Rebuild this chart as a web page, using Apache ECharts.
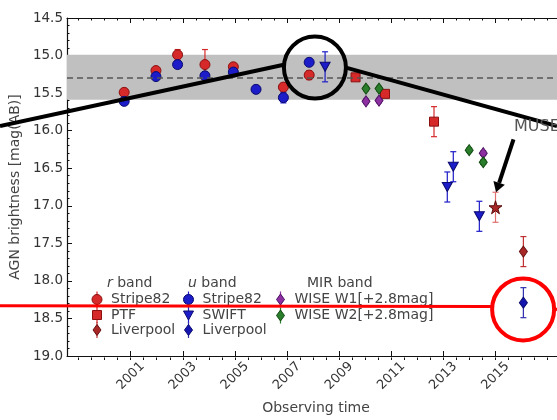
<!DOCTYPE html>
<html><head><meta charset="utf-8">
<script src="https://cdn.jsdelivr.net/npm/echarts@6/dist/echarts.min.js"></script>
<style>html,body{margin:0;padding:0;background:#fff}#c{width:557px;height:420px}</style>
</head><body><div id="c"></div>
<script>
// ---- data: [year, magnitude, error] ----
const rStripe82 = [[2000.75,15.49,0.04],[2001.97,15.20,0.04],[2002.80,14.99,0.07],[2003.85,15.12,0.20],[2004.94,15.15,0.04],[2006.86,15.42,0.05],[2007.85,15.26,0.06]];
const rPTF = [[2009.63,15.29,0.03],[2010.76,15.51,0.04],[2012.64,15.88,0.20]];
const rLiverpool = [[2016.07,17.61,0.20]];
const rMUSE = [[2015.00,17.02,0.20]];
const uStripe82 = [[2000.75,15.61,0.04],[2001.97,15.28,0.04],[2002.80,15.12,0.04],[2003.85,15.27,0.04],[2004.94,15.22,0.04],[2005.81,15.45,0.05],[2006.86,15.56,0.07],[2007.85,15.09,0.04]];
const uSWIFT = [[2008.46,15.15,0.20],[2013.15,16.75,0.20],[2013.38,16.48,0.20],[2014.38,17.14,0.20]];
const uLiverpool = [[2016.07,18.29,0.20]];
const wiseW1 = [[2010.03,15.61,0.03],[2010.53,15.60,0.03],[2014.53,16.30,0.03]];
const wiseW2 = [[2010.03,15.44,0.03],[2010.53,15.44,0.03],[2013.99,16.26,0.03],[2014.53,16.42,0.03]];
const bandMean = 15.29, bandHalf = 0.30;
const xTickYears = [2001,2003,2005,2007,2009,2011,2013,2015];
const xMinorTicks = [];
for (let v = 1998.5; v <= 2017.5; v += 0.5) xMinorTicks.push(v);
const X_MIN = 1998.556, X_MAX = 2017.36;
const Y_MIN = 14.5, Y_MAX = 19.0;
const blackCircleAt = [2008.07, 15.16];
const redCircleAt = [2016.06, 18.38];

const FF = 'DejaVu Sans';
const chart = echarts.init(document.getElementById('c'), null, {renderer:'canvas'});

function errSeries(name, data, color) {
  return {
    name: name + ' err', type: 'custom', xAxisIndex: 0, yAxisIndex: 0, z: 3, silent: true,
    data: data,
    encode: {x: 0, y: 1},
    renderItem: function (params, api) {
      const x = api.value(0), y = api.value(1), e = api.value(2);
      const t = api.coord([x, y - e]), b = api.coord([x, y + e]);
      const st = {stroke: color, lineWidth: 1.2};
      return {type: 'group', children: [
        {type: 'line', shape: {x1: t[0], y1: t[1], x2: b[0], y2: b[1]}, style: st},
        {type: 'line', shape: {x1: t[0]-3, y1: t[1], x2: t[0]+3, y2: t[1]}, style: st},
        {type: 'line', shape: {x1: b[0]-3, y1: b[1], x2: b[0]+3, y2: b[1]}, style: st}
      ]};
    }
  };
}
function ptSeries(name, data, symbol, size, fill, edge, rot) {
  return {
    name: name, type: 'scatter', xAxisIndex: 0, yAxisIndex: 0, z: 4, silent: true,
    data: data.map(d => [d[0], d[1]]),
    symbol: symbol, symbolSize: size, symbolRotate: rot || 0,
    itemStyle: {color: fill, borderColor: edge, borderWidth: 1, opacity: 1}
  };
}
const STAR = 'path://M50,0 L61,35 L98,35 L68,57 L79,91 L50,70 L21,91 L32,57 L2,35 L39,35 Z';
const RED = '#d62a2a', REDE = '#8b1010', BLUE = '#1c1cc8', BLUEE = '#0a0a70';
const PURP = '#8d2fa0', GRN = '#2a7d2a';

const option = {
  animation: false,
  backgroundColor: '#ffffff',
  grid: [{left: 67, top: 18, right: 0, bottom: 60}, {left: 67, top: 18, right: 0, bottom: 60}],
  xAxis: [
    {gridIndex: 0, type: 'value', position: 'bottom', min: X_MIN, max: X_MAX,
     axisLine: {lineStyle: {color: '#111', width: 1.2}},
     axisTick: {inside: true, length: 5, customValues: xTickYears, lineStyle: {color: '#111'}},
     axisLabel: {customValues: xTickYears, rotate: 45, align: 'center', verticalAlign: 'middle', margin: 20,
                 fontSize: 13, color: '#333', fontFamily: FF, formatter: v => String(Math.round(v))},
     splitLine: {show: false},
     name: 'Observing time', nameLocation: 'middle', nameGap: 45,
     nameTextStyle: {fontSize: 14, color: '#444', fontFamily: FF, padding: [0, 0, 0, 8]}},
    {gridIndex: 0, type: 'value', position: 'top', min: X_MIN, max: X_MAX,
     axisLine: {lineStyle: {color: '#111', width: 1.2}},
     axisTick: {inside: true, length: 5, customValues: xTickYears, lineStyle: {color: '#111'}},
     axisLabel: {show: false}, splitLine: {show: false}},
    {gridIndex: 1, type: 'value', position: 'bottom', min: X_MIN, max: X_MAX,
     axisLine: {show: false},
     axisTick: {inside: true, length: 2.5, customValues: xMinorTicks, lineStyle: {color: '#111'}},
     axisLabel: {show: false}, splitLine: {show: false}},
    {gridIndex: 1, type: 'value', position: 'top', min: X_MIN, max: X_MAX,
     axisLine: {show: false},
     axisTick: {inside: true, length: 2.5, customValues: xMinorTicks, lineStyle: {color: '#111'}},
     axisLabel: {show: false}, splitLine: {show: false}}
  ],
  yAxis: [
    {gridIndex: 0, type: 'value', inverse: true, min: Y_MIN, max: Y_MAX, interval: 0.5,
     axisLine: {show: true, lineStyle: {color: '#111', width: 1.2}},
     axisTick: {show: true, inside: true, length: 5, lineStyle: {color: '#111'}},
     minorTick: {show: true, splitNumber: 5, length: 2.5, lineStyle: {color: '#111'}},
     axisLabel: {formatter: v => v.toFixed(1), margin: 4, fontSize: 13.5, color: '#333', fontFamily: FF},
     splitLine: {show: false}, minorSplitLine: {show: false},
     name: 'AGN brightness [mag(AB)]', nameLocation: 'middle', nameGap: 42,
     nameTextStyle: {fontSize: 14, color: '#444', fontFamily: FF}},
    {gridIndex: 1, type: 'value', inverse: true, min: Y_MIN, max: Y_MAX, show: false}
  ],
  series: [
    {name: 'band', type: 'line', xAxisIndex: 0, yAxisIndex: 0, data: [], z: 1, silent: true,
     markArea: {silent: true, itemStyle: {color: '#c0c0c0'},
                data: [[{yAxis: bandMean - bandHalf}, {yAxis: bandMean + bandHalf}]]},
     markLine: {silent: true, symbol: 'none', label: {show: false},
                lineStyle: {type: [6, 4], color: '#555', width: 1.6},
                data: [{yAxis: bandMean}]}},
    errSeries('r Stripe82', rStripe82, RED),
    errSeries('u Stripe82', uStripe82, BLUE),
    errSeries('r PTF', rPTF, RED),
    errSeries('r Liverpool', rLiverpool, '#c03030'),
    errSeries('MUSE', rMUSE, '#e07070'),
    errSeries('u SWIFT', uSWIFT, BLUE),
    errSeries('u Liverpool', uLiverpool, '#3030b0'),
    errSeries('WISE W1', wiseW1, PURP),
    errSeries('WISE W2', wiseW2, GRN),
    ptSeries('r Stripe82', rStripe82, 'circle', 10, RED, REDE),
    ptSeries('u Stripe82', uStripe82, 'circle', 10, BLUE, BLUEE),
    ptSeries('r PTF', rPTF, 'rect', 9, RED, REDE),
    ptSeries('r Liverpool', rLiverpool, 'diamond', [8, 11], '#a82828', '#6b1010'),
    ptSeries('MUSE', rMUSE, STAR, 13, '#a82828', '#5a0a0a'),
    ptSeries('u SWIFT', uSWIFT, 'triangle', [10, 9], BLUE, BLUEE, 180),
    ptSeries('u Liverpool', uLiverpool, 'diamond', [8, 11], '#1515b0', BLUEE),
    ptSeries('WISE W1', wiseW1, 'diamond', [8, 11], PURP, '#4a1060'),
    ptSeries('WISE W2', wiseW2, 'diamond', [8, 11], GRN, '#104a10')
  ]
};
chart.setOption(option);

// ---- legend & annotations (graphic overlay) ----
function mk(shape, cx, cy, fill, edge) {
  const st = {fill: fill, stroke: edge, lineWidth: 1};
  if (shape === 'circle') return {type: 'circle', shape: {cx: cx, cy: cy, r: 5}, style: st};
  if (shape === 'rect') return {type: 'rect', shape: {x: cx-4.5, y: cy-4.5, width: 9, height: 9}, style: st};
  if (shape === 'diamond') return {type: 'polygon', shape: {points: [[cx, cy-5.5], [cx+4, cy], [cx, cy+5.5], [cx-4, cy]]}, style: st};
  return {type: 'polygon', shape: {points: [[cx-5, cy-4], [cx+5, cy-4], [cx, cy+5]]}, style: st};
}
function entry(shape, cx, cy, fill, edge, barColor, label) {
  return [
    {type: 'line', shape: {x1: cx, y1: cy-8, x2: cx, y2: cy+8}, style: {stroke: barColor, lineWidth: 1.2}, z: 50},
    Object.assign(mk(shape, cx, cy, fill, edge), {z: 51}),
    {type: 'text', x: cx + 14, y: cy, z: 51, style: {text: label, fill: '#444', font: '14px "DejaVu Sans"', textVerticalAlign: 'middle', textAlign: 'left'}}
  ];
}
const g = [];
g.push({type: 'text', x: 107, y: 283, z: 51, style: {text: '{i|r} band', rich: {i: {fontStyle: 'italic', fontSize: 14, fill: '#444', fontFamily: FF}}, fill: '#444', font: '14px "DejaVu Sans"', textVerticalAlign: 'middle'}});
g.push({type: 'text', x: 188, y: 283, z: 51, style: {text: '{i|u} band', rich: {i: {fontStyle: 'italic', fontSize: 14, fill: '#444', fontFamily: FF}}, fill: '#444', font: '14px "DejaVu Sans"', textVerticalAlign: 'middle'}});
g.push({type: 'text', x: 307, y: 283, z: 51, style: {text: 'MIR band', fill: '#444', font: '14px "DejaVu Sans"', textVerticalAlign: 'middle'}});
g.push(...entry('circle', 97, 299.5, RED, REDE, RED, 'Stripe82'));
g.push(...entry('rect', 97, 315, RED, REDE, RED, 'PTF'));
g.push(...entry('diamond', 97, 330, '#a82828', '#6b1010', '#c03030', 'Liverpool'));
g.push(...entry('circle', 188.5, 299.5, BLUE, BLUEE, BLUE, 'Stripe82'));
g.push(...entry('tri', 188.5, 315, BLUE, BLUEE, BLUE, 'SWIFT'));
g.push(...entry('diamond', 188.5, 330, '#1515b0', BLUEE, '#3030b0', 'Liverpool'));
g.push(...entry('diamond', 280.5, 299.5, PURP, '#4a1060', PURP, 'WISE W1[+2.8mag]'));
g.push(...entry('diamond', 280.5, 315.5, GRN, '#104a10', GRN, 'WISE W2[+2.8mag]'));

const bc = chart.convertToPixel({gridIndex: 0}, blackCircleAt);
const rc = chart.convertToPixel({gridIndex: 0}, redCircleAt);
const sp = chart.convertToPixel({gridIndex: 0}, [rMUSE[0][0], rMUSE[0][1]]);
const R = 31;
g.push({type: 'line', z: 100, shape: {x1: 0, y1: 126, x2: bc[0]-R+1, y2: bc[1]-3}, style: {stroke: '#000', lineWidth: 4}});
g.push({type: 'line', z: 100, shape: {x1: bc[0]+R, y1: bc[1], x2: 557, y2: 126}, style: {stroke: '#000', lineWidth: 4}});
g.push({type: 'circle', z: 100, shape: {cx: bc[0], cy: bc[1], r: R}, style: {fill: 'none', stroke: '#000', lineWidth: 4}});
g.push({type: 'line', z: 100, shape: {x1: 0, y1: 305.7, x2: rc[0]-R-1, y2: rc[1]-3}, style: {stroke: '#f00', lineWidth: 3}});
g.push({type: 'line', z: 100, shape: {x1: rc[0]+R, y1: rc[1]-2, x2: 557, y2: 310.5}, style: {stroke: '#f00', lineWidth: 3}});
g.push({type: 'circle', z: 100, shape: {cx: rc[0], cy: rc[1], r: R}, style: {fill: 'none', stroke: '#f00', lineWidth: 4}});
// arrow toward MUSE point
const tip = [sp[0]+0.5, sp[1]-15], tail = [sp[0]+18, sp[1]-68];
const dx = tip[0]-tail[0], dy = tip[1]-tail[1], L = Math.hypot(dx, dy), ux = dx/L, uy = dy/L;
const hb = [tip[0]-ux*10, tip[1]-uy*10];
g.push({type: 'line', z: 100, shape: {x1: tail[0], y1: tail[1], x2: hb[0], y2: hb[1]}, style: {stroke: '#000', lineWidth: 4}});
g.push({type: 'polygon', z: 100, shape: {points: [tip, [hb[0]-uy*6, hb[1]+ux*6], [hb[0]+uy*6, hb[1]-ux*6]]}, style: {fill: '#000'}});
g.push({type: 'text', z: 100, x: 514, y: 127, style: {text: 'MUSE', fill: '#555', font: '16px "DejaVu Sans"', textVerticalAlign: 'middle'}});
chart.setOption({graphic: g});
</script></body></html>
